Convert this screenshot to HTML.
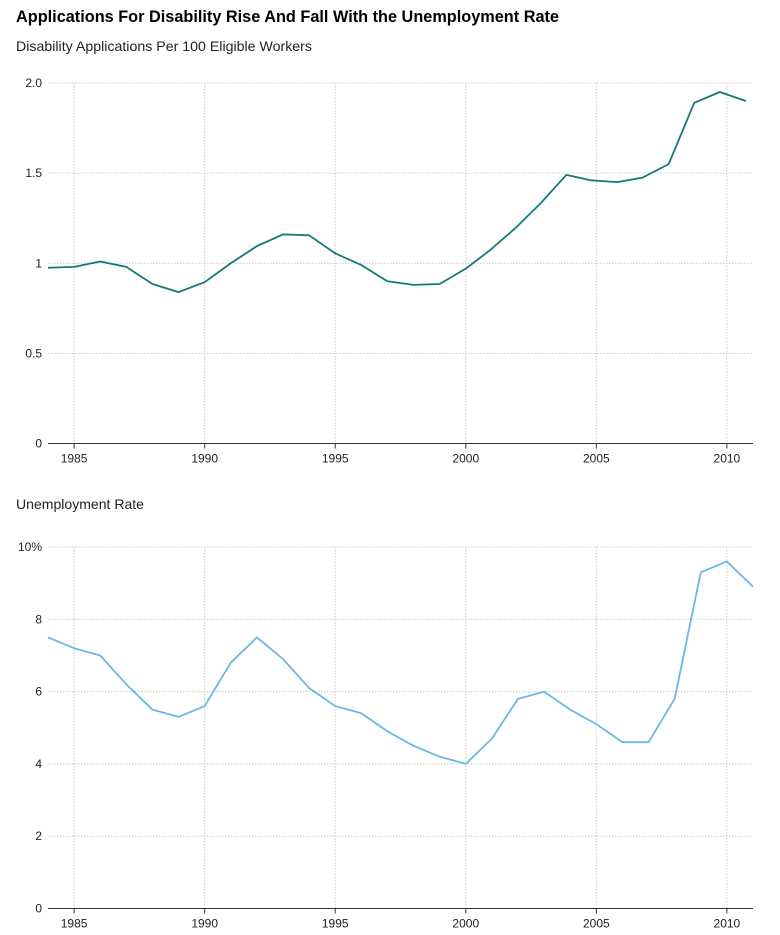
<!DOCTYPE html>
<html><head><meta charset="utf-8"><style>
body{margin:0;background:#fff;font-family:"Liberation Sans",sans-serif;}
svg{display:block}
</style></head><body>
<svg id="c" width="780" height="935">
<text x="16" y="22" font-size="17" font-weight="bold" fill="#000" textLength="543" lengthAdjust="spacingAndGlyphs">Applications For Disability Rise And Fall With the Unemployment Rate</text>
<text x="16" y="51" font-size="14" fill="#222" textLength="296" lengthAdjust="spacingAndGlyphs">Disability Applications Per 100 Eligible Workers</text>
<text x="16" y="509" font-size="14" fill="#222" textLength="128" lengthAdjust="spacingAndGlyphs">Unemployment Rate</text>
</svg>
<script>
const years=[1984,1985,1986,1987,1988,1989,1990,1991,1992,1993,1994,1995,1996,1997,1998,1999,2000,2001,2002,2003,2004,2005,2006,2007,2008,2009,2010,2011];
const disabilityYears=[1984,1985,1986,1987,1988,1989,1990,1991,1992,1993,1994,1995,1996,1997,1998,1999,2000,2000.95,2001.9,2002.85,2003.85,2004.8,2005.8,2006.77,2007.77,2008.75,2009.73,2010.73];
const disability=[0.975,0.98,1.01,0.98,0.885,0.84,0.895,1.0,1.095,1.16,1.155,1.055,0.99,0.9,0.88,0.885,0.97,1.075,1.195,1.33,1.49,1.46,1.45,1.475,1.55,1.89,1.95,1.9];
const unemployment=[7.5,7.2,7.0,6.2,5.5,5.3,5.6,6.8,7.5,6.9,6.1,5.6,5.4,4.9,4.5,4.2,4.0,4.7,5.8,6.0,5.5,5.1,4.6,4.6,5.8,9.3,9.6,8.9];
const xTicks=[1985,1990,1995,2000,2005,2010];
const topTicks=[0,0.5,1,1.5,2];
const topTickLabels=["0","0.5","1","1.5","2.0"];
const botTicks=[0,2,4,6,8,10];
const botTickLabels=["0","2","4","6","8","10%"];
const NS="http://www.w3.org/2000/svg";
const svg=document.getElementById('c');
const X0=48,X1=753;
const x=y=>X0+(y-1984)/(2011-1984)*(X1-X0);
function el(t,a,p){const e=document.createElementNS(NS,t);for(const k in a)e.setAttribute(k,a[k]);(p||svg).appendChild(e);return e;}
function panel(name,xs,vals,ticks,labels,yB,yT,max,color){
  const y=v=>yB-(v/max)*(yB-yT);
  ticks.forEach((t,i)=>{
    if(t>0){const g=el('line',{x1:X0,x2:X1,y1:y(t),y2:y(t),stroke:'#c8c8c8','stroke-dasharray':'1.5,1.5','stroke-width':1});
    
    }
    const tx=el('text',{x:42,y:y(t)+4,'font-size':12,'text-anchor':'end',fill:'#222'});
    tx.textContent=labels[i];
    
    
  });
  xTicks.forEach(t=>{
    const g=el('line',{x1:x(t),x2:x(t),y1:yT,y2:yB,stroke:'#c8c8c8','stroke-dasharray':'1.5,1.5','stroke-width':1});
    
    
    const tk=el('line',{x1:x(t),x2:x(t),y1:yB,y2:yB+5,stroke:'#333'});
    
    
    const tx=el('text',{x:x(t),y:yB+19,'font-size':12,'text-anchor':'middle',fill:'#222'});
    tx.textContent=t;
    
    
  });
  const ax=el('line',{x1:X0,x2:X1,y1:yB,y2:yB,stroke:'#333','stroke-width':1});
  
  
  const pts=vals.map((v,i)=>[x(xs[i]),y(v)]);
  const p=el('polyline',{points:pts.map(q=>q.join(',')).join(' '),fill:'none',stroke:color,'stroke-width':1.8,'stroke-linejoin':'round'});
  
  
}
panel('disability',disabilityYears,disability,topTicks,topTickLabels,443.5,83,2,'#127a78');
panel('unemployment',years,unemployment,botTicks,botTickLabels,908.5,547,10,'#6bb8e3');
</script>
</body></html>
